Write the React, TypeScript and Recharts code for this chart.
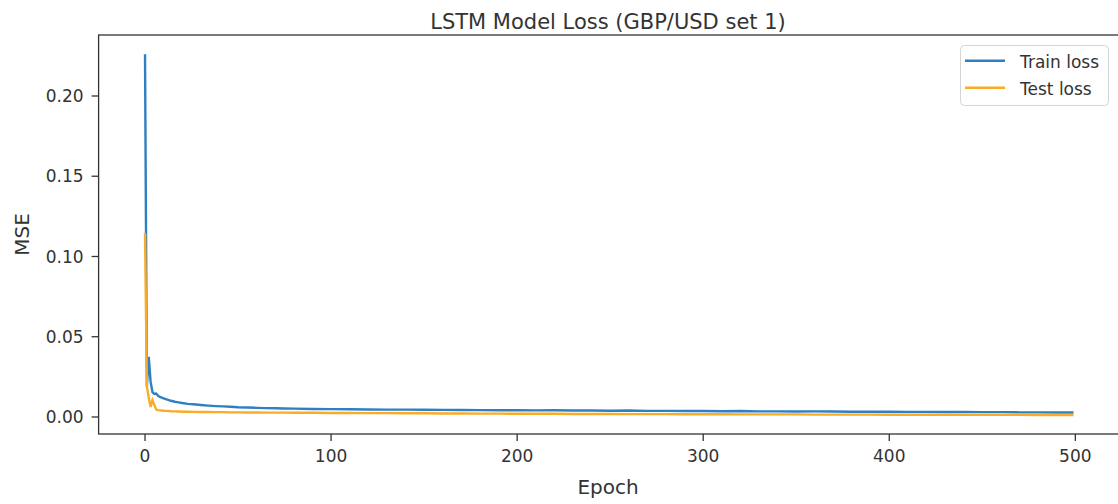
import { LineChart, Line, XAxis, YAxis } from "recharts"

const epochs = [
  0, 1, 2, 3, 4, 5, 6, 7, 8, 9, 10, 12, 14, 16, 18, 20, 23, 26, 30, 34, 38, 42, 46, 50, 55, 60, 65, 70, 75, 80, 90,
  100, 110, 120, 130, 140, 150, 160, 170, 180, 190, 200, 210, 220, 230, 240, 250, 260, 270, 280, 290,
  300, 310, 320, 330, 340, 350, 360, 370, 380, 390, 400, 410, 420, 430, 440, 450, 460, 470, 480, 490, 499,
]

const trainLoss = [
  0.226, 0.019, 0.0375, 0.022, 0.0155, 0.0143, 0.0146, 0.0132, 0.0125, 0.0121, 0.0116, 0.0108, 0.0101, 0.0095,
  0.0091, 0.0087, 0.0082, 0.0079, 0.0075, 0.0071, 0.0068, 0.0066, 0.0064, 0.0061, 0.0059, 0.0057, 0.0055, 0.0054,
  0.0053, 0.0052, 0.005,
  0.0049, 0.0048, 0.0047, 0.0046, 0.0046, 0.0045, 0.0044, 0.0044, 0.0043, 0.0042, 0.0042, 0.0041, 0.0042, 0.004,
  0.004, 0.0039, 0.004, 0.0038, 0.0038, 0.0037, 0.0037, 0.0036, 0.0037, 0.0035, 0.0035, 0.0034, 0.0035, 0.0034,
  0.0033, 0.0033, 0.0033, 0.0032, 0.0032, 0.0031, 0.0032, 0.003, 0.003, 0.0029, 0.0029, 0.0028, 0.0028,
]

const testLoss = [
  0.1146, 0.019, 0.012, 0.0062, 0.0105, 0.0075, 0.0046, 0.0043, 0.0041, 0.004, 0.0039, 0.0038, 0.0036, 0.0035,
  0.0034, 0.0033, 0.0033, 0.0032, 0.0031, 0.0031, 0.003, 0.003, 0.0029, 0.0029, 0.0028, 0.0028, 0.0027, 0.0027,
  0.0027, 0.0026, 0.0026,
  0.0025, 0.0025, 0.0024, 0.0024, 0.0023, 0.0023, 0.0022, 0.0022, 0.0021, 0.0021, 0.002, 0.002, 0.002, 0.0019,
  0.0019, 0.0019, 0.0018, 0.0018, 0.0018, 0.0017, 0.0017, 0.0017, 0.0016, 0.0016, 0.0016, 0.0016, 0.0015, 0.0015,
  0.0015, 0.0015, 0.0014, 0.0014, 0.0014, 0.0014, 0.0013, 0.0013, 0.0013, 0.0013, 0.0012, 0.0012, 0.0012,
]

const xTicks = [0, 100, 200, 300, 400, 500]
const yTicks = [0, 0.05, 0.1, 0.15, 0.2]

const seriesNames = ["Train loss", "Test loss"]
const seriesKeys = ["train", "test"]
const seriesColors = ["#2f80c2", "#fbac26"]

const FONT = "'DejaVu Sans', sans-serif"
const INK = "#333"

// plot box (matplotlib axes area)
const PLOT_LEFT = 98.6
const PLOT_TOP = 35
const PLOT_W = 1021.3
const PLOT_H = 399

export default function App() {
  const data = epochs.map((epoch, i) => ({ epoch, train: trainLoss[i], test: testLoss[i] }))

  return (
    <div
      style={{
        position: "absolute",
        left: 0,
        top: 0,
        width: 1118,
        height: 504,
        overflow: "hidden",
        background: "#fff",
        fontFamily: FONT,
      }}
    >
      <LineChart
        width={1125}
        height={504}
        data={data}
        margin={{ top: PLOT_TOP, right: 1125 - PLOT_LEFT - PLOT_W, bottom: 0, left: 0 }}
      >
        <XAxis
          dataKey="epoch"
          type="number"
          domain={[-24.95, 523.95]}
          ticks={xTicks}
          height={504 - PLOT_TOP - PLOT_H}
          axisLine={false}
          tickSize={7}
          tickMargin={9}
          tickLine={{ stroke: INK, strokeWidth: 1.3 }}
          tick={{ fill: INK, fontSize: 17, fontFamily: FONT }}
        />
        <YAxis
          type="number"
          domain={[-0.0106, 0.238]}
          ticks={yTicks}
          width={PLOT_LEFT}
          axisLine={false}
          tickSize={7}
          tickMargin={8}
          tickFormatter={(v: number) => v.toFixed(2)}
          tickLine={{ stroke: INK, strokeWidth: 1.3 }}
          tick={{ fill: INK, fontSize: 17, fontFamily: FONT }}
        />
        {seriesKeys.map((k, i) => (
          <Line
            key={k}
            type="linear"
            dataKey={k}
            name={seriesNames[i]}
            stroke={seriesColors[i]}
            strokeWidth={2.4}
            dot={false}
            isAnimationActive={false}
          />
        ))}
      </LineChart>

      <svg
        width={1118}
        height={504}
        style={{ position: "absolute", left: 0, top: 0, pointerEvents: "none" }}
        fontFamily={FONT}
      >
        <rect x={PLOT_LEFT} y={PLOT_TOP} width={PLOT_W} height={PLOT_H} fill="none" stroke={INK} strokeWidth={1.3} />
        <text x={608} y={28.5} textAnchor="middle" fontSize={21} fill={INK}>
          LSTM Model Loss (GBP/USD set 1)
        </text>
        <text x={608} y={494} textAnchor="middle" fontSize={20} fill={INK}>
          Epoch
        </text>
        <text x={29} y={234.5} textAnchor="middle" fontSize={20} fill={INK} transform="rotate(-90 29 234.5)">
          MSE
        </text>

        <rect x={960.5} y={45.5} width={148} height={60} rx={4} fill="#fff" fillOpacity={0.8} stroke="#d5d5d5" />
        {seriesNames.map((name, i) => (
          <g key={name}>
            <line x1={965} x2={1005} y1={60.7 + i * 27} y2={60.7 + i * 27} stroke={seriesColors[i]} strokeWidth={2.4} />
            <text x={1020} y={67.5 + i * 27} fontSize={17} fill={INK}>
              {name}
            </text>
          </g>
        ))}
      </svg>
    </div>
  )
}
